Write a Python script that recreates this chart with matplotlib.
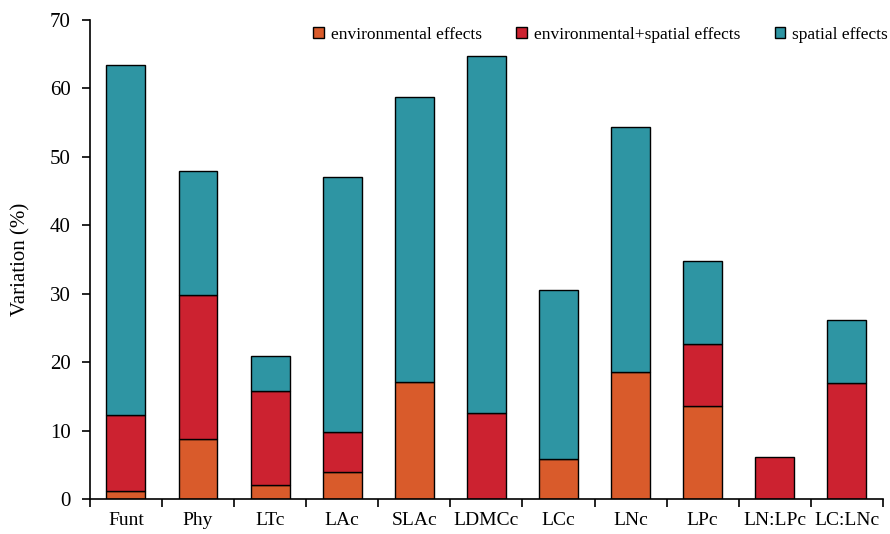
import numpy as np
import matplotlib
matplotlib.use("Agg")
import matplotlib.pyplot as plt

plt.rcParams['font.family'] = ['Liberation Serif', 'DejaVu Serif']

categories = ["Funt", "Phy", "LTc", "LAc", "SLAc", "LDMCc", "LCc", "LNc", "LPc", "LN:LPc", "LC:LNc"]
env = [1.2, 8.8, 2.0, 3.9, 17.1, 0.0, 5.9, 18.5, 13.6, 0.0, 0.0]
env_spatial = [11.1, 21.0, 13.8, 5.9, 0.0, 12.5, 0.0, 0.0, 9.0, 6.2, 16.9]
spatial = [51.2, 18.1, 5.1, 37.3, 41.6, 52.3, 24.6, 35.9, 12.2, 0.0, 9.3]

series_names = ["environmental effects", "environmental+spatial effects", "spatial effects"]
colors = ["#D95B2B", "#CC2230", "#2E95A3"]

fig = plt.figure(figsize=(8.9, 5.34), dpi=100)
ax = fig.add_axes([0.101, 0.0655, 0.891, 0.897])

x = np.arange(len(categories))
w = 0.54
bottom = np.zeros(len(categories))
for vals, name, c in zip([env, env_spatial, spatial], series_names, colors):
    vals = np.array(vals)
    mask = vals > 0
    ax.bar(x[mask], vals[mask], w, bottom=bottom[mask], color=c,
           edgecolor='black', linewidth=1, label=name)
    bottom += vals

ax.set_xlim(-0.5, len(categories) - 0.5)
ax.set_ylim(0, 70)
ax.set_yticks(range(0, 71, 10))
ax.set_xticks(x)
ax.set_xticklabels(categories, fontsize=14)
ax.set_xticks(np.arange(-0.5, len(categories), 1), minor=True)
ax.tick_params(axis='x', which='major', length=0, pad=9)
ax.tick_params(axis='x', which='minor', length=6, width=1.2, direction='out')
ax.tick_params(axis='y', labelsize=15, length=6, width=1.2, direction='out', pad=8)
ax.set_ylabel("Variation (%)", fontsize=15, labelpad=14)

for s in ['top', 'right']:
    ax.spines[s].set_visible(False)
for s in ['left', 'bottom']:
    ax.spines[s].set_linewidth(1.2)

ax.legend(loc='upper right', bbox_to_anchor=(1.015, 1.0), ncol=3, frameon=False,
          fontsize=12.5, handlelength=0.6, handleheight=0.6, handletextpad=0.4,
          columnspacing=2.0, borderaxespad=0)

fig.savefig("out.png", dpi=100)
